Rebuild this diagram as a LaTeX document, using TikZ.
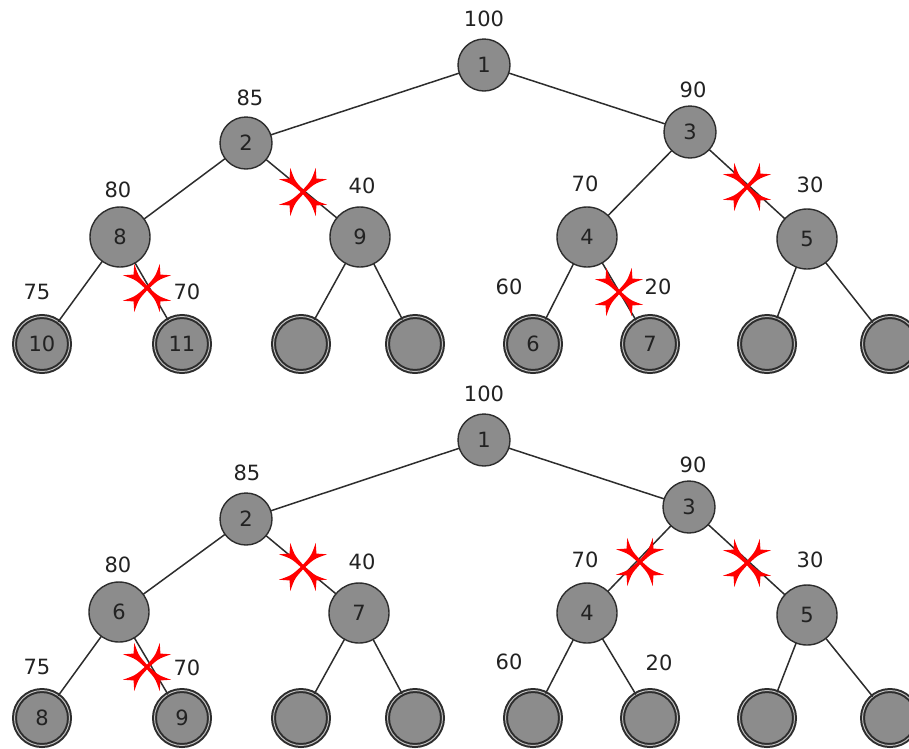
\documentclass[tikz,border=0pt]{standalone}
\usepackage{fontspec}
\setmainfont{DejaVu Sans}
\definecolor{nodefill}{RGB}{140,140,140}
\definecolor{edgecol}{RGB}{45,45,45}
\definecolor{txtcol}{RGB}{34,34,34}
\begin{document}
\begin{tikzpicture}[x=1pt,y=-1pt,
  every node/.style={inner sep=0pt, outer sep=0pt, font=\fontsize{21}{21}\selectfont, text=txtcol},
  inner/.style={circle, draw=edgecol, line width=1.4pt, fill=nodefill, minimum size=52pt},
  mid/.style={circle, draw=edgecol, line width=1.4pt, fill=nodefill, minimum size=60pt},
  leaf/.style={circle, draw=edgecol, line width=2pt, double=gray!50, double distance=1pt, fill=nodefill, minimum size=55pt},
  edge/.style={draw=edgecol, line width=1.5pt},
  cutmark/.pic={\foreach \a in {45,135,225,315} {\fill[red, rotate=\a] (0,-1.6) .. controls (14,-2.2) .. (26,-8) -- (19,0) -- (26,8) .. controls (14,2.2) .. (0,1.6) -- cycle;}}
]
\useasboundingbox (0,0) rectangle (909,748);
\begin{scope}
\clip (0,0) rectangle (909,748);
% ---------------- top tree ----------------
\node[inner] (t1) at (484,65) {1};
\node[inner] (t2) at (246,143) {2};
\node[inner] (t3) at (690,132) {3};
\node[mid] (t8) at (120,237) {8};
\node[mid] (t9) at (360,237) {9};
\node[mid] (t4) at (587,237) {4};
\node[mid] (t5) at (807,239) {5};
\node[leaf] (t10) at (42,344) {10};
\node[leaf] (t11) at (182,344) {11};
\node[leaf] (ta) at (301,344) {};
\node[leaf] (tb) at (415,344) {};
\node[leaf] (t6) at (533,344) {6};
\node[leaf] (t7) at (650,344) {7};
\node[leaf] (tc) at (767,344) {};
\node[leaf] (td) at (890,344) {};
\path[edge] (t1) -- (t2);
\path[edge] (t1) -- (t3);
\path[edge] (t2) -- (t8);
\path[edge] (t2) -- (t9);
\path[edge] (t3) -- (t4);
\path[edge] (t3) -- (t5);
\path[edge] (t8) -- (t10);
\path[edge] (t8) -- (t11);
\path[edge] (t9) -- (ta);
\path[edge] (t9) -- (tb);
\path[edge] (t4) -- (t6);
\path[edge] (t4) -- (t7);
\path[edge] (t5) -- (tc);
\path[edge] (t5) -- (td);
\node (tl1) at (484,19) {100};
\node (tl2) at (250,98) {85};
\node (tl3) at (693,90) {90};
\node (tl8) at (118,190) {80};
\node (tl9) at (362,186) {40};
\node (tl4) at (585,184) {70};
\node (tl5) at (810,185) {30};
\node (tl10) at (37,292) {75};
\node (tl11) at (187,292) {70};
\node (tl6) at (509,287) {60};
\node (tl7) at (658,287) {20};
\pic at (303,192) {cutmark};
\pic at (147,288) {cutmark};
\pic at (747,187) {cutmark};
\pic at (619,292) {cutmark};
% ---------------- bottom tree ----------------
\node[inner] (b1) at (484,440) {1};
\node[inner] (b2) at (246,519) {2};
\node[inner] (b3) at (689,507) {3};
\node[mid] (b6) at (119,612) {6};
\node[mid] (b7) at (359,613) {7};
\node[mid] (b4) at (587,613) {4};
\node[mid] (b5) at (807,615) {5};
\node[leaf] (b8) at (42,718) {8};
\node[leaf] (b9) at (182,718) {9};
\node[leaf] (ba) at (301,718) {};
\node[leaf] (bb) at (415,718) {};
\node[leaf] (bc) at (533,718) {};
\node[leaf] (bd) at (650,718) {};
\node[leaf] (be) at (767,718) {};
\node[leaf] (bf) at (890,718) {};
\path[edge] (b1) -- (b2);
\path[edge] (b1) -- (b3);
\path[edge] (b2) -- (b6);
\path[edge] (b2) -- (b7);
\path[edge] (b3) -- (b4);
\path[edge] (b3) -- (b5);
\path[edge] (b6) -- (b8);
\path[edge] (b6) -- (b9);
\path[edge] (b7) -- (ba);
\path[edge] (b7) -- (bb);
\path[edge] (b4) -- (bc);
\path[edge] (b4) -- (bd);
\path[edge] (b5) -- (be);
\path[edge] (b5) -- (bf);
\node (bl1) at (484,394) {100};
\node (bl2) at (247,473) {85};
\node (bl3) at (693,465) {90};
\node (bl6) at (118,565) {80};
\node (bl7) at (362,562) {40};
\node (bl4) at (585,560) {70};
\node (bl5) at (810,560) {30};
\node (bl8) at (37,667) {75};
\node (bl9) at (187,668) {70};
\node (blc) at (509,662) {60};
\node (bld) at (659,663) {20};
\pic at (303,567) {cutmark};
\pic at (147,667) {cutmark};
\pic at (640,562) {cutmark};
\pic at (747,563) {cutmark};
\end{scope}
\end{tikzpicture}
\end{document}
